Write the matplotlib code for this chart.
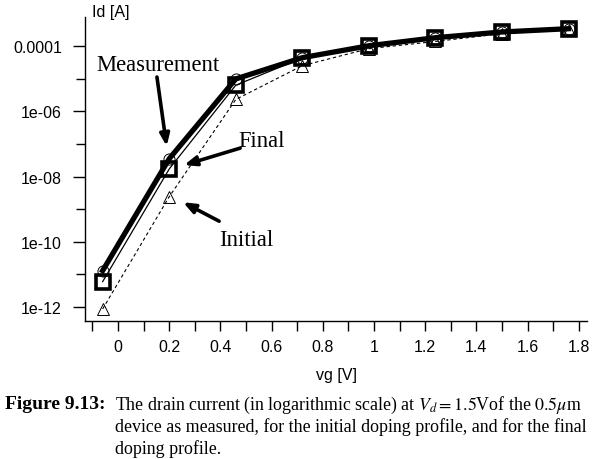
import matplotlib
matplotlib.use('Agg')
import matplotlib.pyplot as plt
import numpy as np
from matplotlib.ticker import FixedLocator, FixedFormatter, MultipleLocator

plt.rcParams['font.family'] = ['Liberation Sans', 'DejaVu Sans']
plt.rcParams['mathtext.fontset'] = 'stix'

# gate voltage [V]
vg = [-0.06, 0.20, 0.46, 0.72, 0.98, 1.24, 1.50, 1.76]
# drain current [A]
id_measured = [1.3e-11, 3.5e-8, 9.8e-6, 4.4e-5, 1.02e-4, 1.8e-4, 2.7e-4, 3.4e-4]
id_final = [6.0e-12, 1.7e-8, 6.3e-6, 4.3e-5, 9.8e-5, 1.78e-4, 2.63e-4, 3.3e-4]
id_initial = [8.7e-13, 2.4e-9, 2.3e-6, 2.5e-5, 8.3e-5, 1.38e-4, 2.4e-4, 3.2e-4]

y_major = [1e-12, 1e-10, 1e-8, 1e-6, 1e-4]
y_major_labels = ['1e-12', '1e-10', '1e-08', '1e-06', '0.0001']
y_minor = [1e-11, 1e-9, 1e-7, 1e-5]
x_major = [0, 0.2, 0.4, 0.6, 0.8, 1.0, 1.2, 1.4, 1.6, 1.8]
x_major_labels = ['0', '0.2', '0.4', '0.6', '0.8', '1', '1.2', '1.4', '1.6', '1.8']

fig = plt.figure(figsize=(6.03, 4.60), dpi=100)
ax = fig.add_axes([85 / 603, 1 - 322 / 460, 502 / 603, 304 / 460])

ax.plot(vg, id_initial, color='k', lw=0.8, ls=(0, (3, 2.5)), marker='^', ms=9,
        mfc='none', mec='k', mew=0.7)
ax.plot(vg, id_final, color='k', lw=0.9, marker='s', ms=10,
        mfc='none', mec='k', mew=2.6)
ax.plot(vg, id_measured, color='k', lw=3.8, marker='o', ms=8,
        mfc='none', mec='k', mew=0.7)

ax.set_yscale('log')
ax.set_xlim(-0.129, 1.832)
ax.set_ylim(10 ** -12.43, 10 ** -3.11)

ax.yaxis.set_major_locator(FixedLocator(y_major))
ax.yaxis.set_major_formatter(FixedFormatter(y_major_labels))
ax.yaxis.set_minor_locator(FixedLocator(y_minor))
ax.yaxis.set_minor_formatter(FixedFormatter([]))
ax.xaxis.set_major_locator(FixedLocator(x_major))
ax.xaxis.set_major_formatter(FixedFormatter(x_major_labels))
ax.xaxis.set_minor_locator(MultipleLocator(0.1))

ax.spines['top'].set_visible(False)
ax.spines['right'].set_visible(False)
ax.spines['left'].set_linewidth(1.0)
ax.spines['bottom'].set_linewidth(1.0)
ax.tick_params(axis='y', which='major', direction='out', length=8.6, width=1.0,
               pad=8, labelsize=11.5)
ax.tick_params(axis='y', which='minor', direction='out', length=6.5, width=1.0)
ax.tick_params(axis='x', which='both', direction='out', length=7.2, width=1.0,
               pad=6, labelsize=11.5)

ax.set_xlabel('vg [V]', fontsize=11.5, labelpad=9)
fig.text(111 / 603, 1 - 12 / 460, 'Id [A]', fontsize=11.5, ha='center', va='center')

# annotations
serif = ['Liberation Serif', 'DejaVu Serif']
ax.text(0.156, 10 ** -4.58, 'Measurement', family=serif, fontsize=16.3,
        ha='center', va='center')
ax.text(0.56, 10 ** -6.91, 'Final', family=serif, fontsize=16.3,
        ha='center', va='center')
ax.text(0.5, 10 ** -9.92, 'Initial', family=serif, fontsize=16.3,
        ha='center', va='center')
arrow = dict(arrowstyle='-|>,head_length=0.7,head_width=0.28', lw=2.6, color='k',
             shrinkA=0, shrinkB=0)
ax.annotate('', xy=(0.19, 10 ** -7.07), xytext=(0.152, 10 ** -4.95), arrowprops=arrow)
ax.annotate('', xy=(0.258, 10 ** -7.65), xytext=(0.477, 10 ** -7.13), arrowprops=arrow)
ax.annotate('', xy=(0.254, 10 ** -8.79), xytext=(0.395, 10 ** -9.37), arrowprops=arrow)

# caption
fig.text(5 / 603, 1 - 405 / 460, 'Figure 9.13:', family=serif, weight='bold',
         fontsize=14.0, va='center')
cap_lines = [
    r'The drain current (in logarithmic scale) at $V_d = 1.5$Vof the $0.5\mu$m',
    'device as measured, for the initial doping profile, and for the final',
    'doping profile.',
]
for i, line in enumerate(cap_lines):
    fig.text(115 / 603, 1 - (405 + 22 * i) / 460, line, family=serif,
             fontsize=12.9, va='center')

fig.savefig('out.png', dpi=100)
